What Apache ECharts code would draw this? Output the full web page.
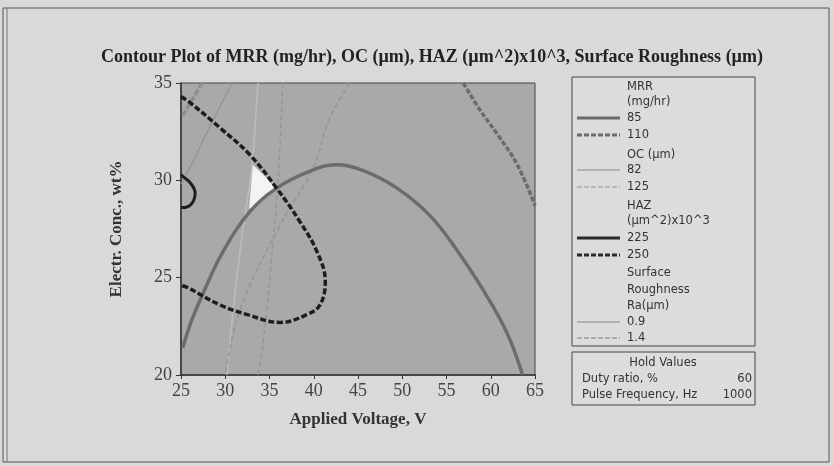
<!DOCTYPE html>
<html>
<head>
<meta charset="utf-8">
<script src="https://cdn.jsdelivr.net/npm/echarts@6/dist/echarts.min.js"></script>
<style>
  html, body { margin: 0; padding: 0; background: #d9d9d9; }
  #chart { width: 833px; height: 466px; }
</style>
</head>
<body>
<div id="chart"></div>
<script>
// contour lines, [voltage, conc]
var mrr85 = [[25.2, 21.4], [26.2, 22.8], [27.4, 24.1], [29.7, 26.3], [32.8, 28.4], [35.8, 29.6], [39.2, 30.4], [42.5, 30.8], [45.6, 30.5], [49.4, 29.6], [53.1, 28.2], [56.2, 26.4], [59.1, 24.4], [61.8, 22.2], [63.6, 20]]
var mrr110 = [[56.9, 35], [58.8, 33.6], [60.7, 32.4], [63, 30.8], [65, 28.7]]
var oc82 = [[33.7, 35], [33.4, 33], [33.0, 30.6], [31.9, 27.2], [30.9, 23.4], [30.2, 20]]
var oc125 = [[36.5, 35], [36.0, 30.3], [35.4, 26.8], [34.3, 21.7], [33.7, 20]]
var oc125b = [[27.4, 35], [26.2, 34.1], [25.1, 33.25]]
var haz225 = [[25, 30.3], [25.2, 30.2], [26.0, 29.9], [26.6, 29.35], [26.2, 28.8], [25.2, 28.6], [25, 28.6]]
var haz250 = [[25, 34.3], [26, 34.0], [29.4, 32.7], [32.8, 31.3], [35.8, 29.6], [38.4, 27.9], [40.4, 26.3], [41.3, 24.8], [40.7, 23.6], [39.2, 23.1], [36.2, 22.7], [32.5, 23.1], [29.4, 23.6], [25.7, 24.5], [25, 24.6]]
var ra09 = [[30.8, 35], [28.3, 32.8], [26.4, 31.0], [25, 29.8]]
var ra14 = [[44.1, 35], [41.8, 33.2], [39.9, 30.6], [36.2, 27.7], [31.7, 23.4], [30.0, 20]]
// white feasible region
var feasible = [[33.1, 30.8], [34.5, 30.2], [35.6, 29.6], [34.1, 29.0], [32.7, 28.5]]

var xTicks = [25, 30, 35, 40, 45, 50, 55, 60, 65]
var yTicks = [20, 25, 30, 35]

var chart = echarts.init(document.getElementById('chart'))

function lineSeries(name, data, color, width, dashed) {
  return {
    name: name,
    type: 'line',
    data: data,
    smooth: 0.4,
    showSymbol: false,
    symbol: 'none',
    silent: true,
    z: 3,
    lineStyle: {
      color: color,
      width: width,
      type: dashed ? dashed : 'solid'
    }
  }
}

// legend rows (drawn by hand, the minitab legend has sub-headers)
var legendRows = [
  { text: 'MRR', y: 87 },
  { text: '(mg/hr)', y: 102 },
  { text: '85', y: 118, color: '#6a6a6a', w: 3 },
  { text: '110', y: 135, color: '#6a6a6a', w: 3, dash: [5, 2] },
  { text: 'OC (µm)', y: 155 },
  { text: '82', y: 170, color: '#b3b3b3', w: 2 },
  { text: '125', y: 187, color: '#b8b8b8', w: 2, dash: [5, 2] },
  { text: 'HAZ', y: 206 },
  { text: '(µm^2)x10^3', y: 221 },
  { text: '225', y: 238, color: '#2a2a2a', w: 3 },
  { text: '250', y: 255, color: '#2a2a2a', w: 3, dash: [5, 2] },
  { text: 'Surface', y: 273 },
  { text: 'Roughness', y: 290 },
  { text: 'Ra(µm)', y: 306 },
  { text: '0.9', y: 322, color: '#b0b0b0', w: 2 },
  { text: '1.4', y: 338, color: '#a8acb0', w: 2, dash: [5, 2] }
]

var smallFont = '11.5px "DejaVu Sans"'

var graphics = [
  // outer frame
  { type: 'rect', shape: { x: 3, y: 8, width: 826, height: 454 }, style: { fill: 'none', stroke: '#555', lineWidth: 1 }, silent: true },
  { type: 'line', shape: { x1: 7, y1: 8, x2: 7, y2: 462 }, style: { stroke: '#777', lineWidth: 1 }, silent: true },
  // title
  {
    type: 'text', x: 432, y: 57,
    style: {
      text: 'Contour Plot of MRR (mg/hr), OC (µm), HAZ (µm^2)x10^3, Surface Roughness (µm)',
      font: 'bold 18px "Liberation Serif"', fill: '#222',
      textAlign: 'center', textVerticalAlign: 'middle'
    }
  },
  // legend box
  { type: 'rect', shape: { x: 572, y: 77, width: 183, height: 269 }, style: { fill: '#dcdcdc', stroke: '#444', lineWidth: 1 }, silent: true },
  // hold values box
  { type: 'rect', shape: { x: 572, y: 352, width: 183, height: 53 }, style: { fill: '#dcdcdc', stroke: '#444', lineWidth: 1 }, silent: true },
  { type: 'text', x: 663, y: 363, style: { text: 'Hold Values', font: smallFont, fill: '#333', textAlign: 'center', textVerticalAlign: 'middle' } },
  { type: 'text', x: 582, y: 379, style: { text: 'Duty ratio, %', font: smallFont, fill: '#333', textVerticalAlign: 'middle' } },
  { type: 'text', x: 752, y: 379, style: { text: '60', font: smallFont, fill: '#333', textAlign: 'right', textVerticalAlign: 'middle' } },
  { type: 'text', x: 582, y: 395, style: { text: 'Pulse Frequency, Hz', font: smallFont, fill: '#333', textVerticalAlign: 'middle' } },
  { type: 'text', x: 752, y: 395, style: { text: '1000', font: smallFont, fill: '#333', textAlign: 'right', textVerticalAlign: 'middle' } }
]

legendRows.forEach(function (r) {
  graphics.push({
    type: 'text', x: 627, y: r.y,
    style: { text: r.text, font: smallFont, fill: '#333', textVerticalAlign: 'middle' }
  })
  if (r.color) {
    graphics.push({
      type: 'line', silent: true,
      shape: { x1: 577, y1: r.y, x2: 620, y2: r.y },
      style: { stroke: r.color, lineWidth: r.w, lineDash: r.dash || null }
    })
  }
})

var option = {
  backgroundColor: '#d9d9d9',
  animation: false,
  grid: {
    left: 181,
    top: 83,
    width: 354,
    height: 292,
    show: true,
    backgroundColor: '#a9a9a9',
    borderColor: '#444',
    borderWidth: 1
  },
  xAxis: {
    type: 'value',
    min: xTicks[0],
    max: xTicks[xTicks.length - 1],
    interval: 5,
    name: 'Applied Voltage, V',
    nameLocation: 'middle',
    nameGap: 36,
    nameTextStyle: { fontFamily: 'Liberation Serif', fontWeight: 'bold', fontSize: 17, color: '#333' },
    axisLine: { lineStyle: { color: '#333', width: 1.5 } },
    axisTick: { length: 4, lineStyle: { color: '#333' } },
    axisLabel: { margin: 7, fontFamily: 'Liberation Serif', fontSize: 18, color: '#444' },
    splitLine: { show: false }
  },
  yAxis: {
    type: 'value',
    min: yTicks[0],
    max: yTicks[yTicks.length - 1],
    interval: 5,
    name: 'Electr. Conc., wt%',
    nameLocation: 'middle',
    nameGap: 56,
    nameTextStyle: { fontFamily: 'Liberation Serif', fontWeight: 'bold', fontSize: 17, color: '#333' },
    axisLine: { lineStyle: { color: '#333', width: 1.5 } },
    axisTick: { length: 5, lineStyle: { color: '#333' } },
    axisLabel: { margin: 9, fontFamily: 'Liberation Serif', fontSize: 18, color: '#444' },
    splitLine: { show: false }
  },
  graphic: graphics,
  series: [
    {
      type: 'custom',
      silent: true,
      z: 1,
      data: feasible,
      encode: { x: 0, y: 1 },
      renderItem: function (params, api) {
        if (params.dataIndex !== 0) return
        var pts = feasible.map(function (p) { return api.coord(p) })
        return { type: 'polygon', shape: { points: pts }, style: { fill: '#f4f4f4' } }
      }
    },
    lineSeries('OC 82', oc82, '#bdbdbd', 1.5),
    lineSeries('OC 125', oc125, '#979797', 1.5, [5, 3]),
    lineSeries('OC 125', oc125b, '#8e8e8e', 3.5, [6, 2]),
    lineSeries('Ra 0.9', ra09, '#939393', 1.3),
    lineSeries('Ra 1.4', ra14, '#959595', 1.5, [5, 3]),
    lineSeries('MRR 85', mrr85, '#6c6c6c', 3.5),
    lineSeries('MRR 110', mrr110, '#6c6c6c', 3.5, [5, 2]),
    lineSeries('HAZ 225', haz225, '#1e1e1e', 3),
    lineSeries('HAZ 250', haz250, '#1e1e1e', 3.5, [6, 2.5])
  ]
}

chart.setOption(option)
window.addEventListener('resize', function () {
  chart.resize()
})
</script>
</body>
</html>
